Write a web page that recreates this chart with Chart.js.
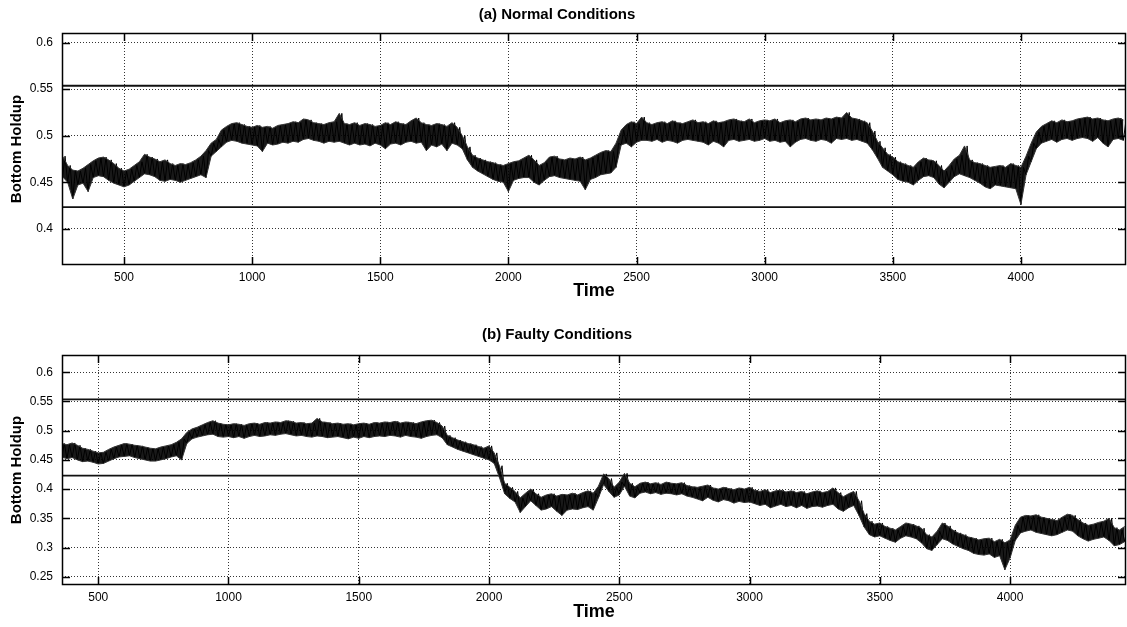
<!DOCTYPE html>
<html>
<head>
<meta charset="utf-8">
<script src="https://cdn.jsdelivr.net/npm/chart.js@4.4.1/dist/chart.umd.min.js"></script>
<style>
  html, body { margin: 0; padding: 0; background: #fff; }
  #wrap { position: relative; width: 1127px; height: 627px; background: #fff; }
  .panel { position: absolute; left: 0; width: 1127px; }
  #panelA { top: 0; height: 300px; }
  #panelB { top: 300px; height: 327px; }
</style>
</head>
<body>
<div id="wrap">
  <div class="panel" id="panelA"><canvas id="normalChart" width="1127" height="300"></canvas></div>
  <div class="panel" id="panelB"><canvas id="faultyChart" width="1127" height="327"></canvas></div>
</div>
<script>
// Sampling of the holdup band: one lower and one upper reading per step
const sampleStep = 20;
const normalStart = 260;
const faultyStart = 360;

// Normal operation, band lower / upper edge from t = 260 to 4400
const normalHigh = [
  .478,.468,.463,.462,.465,.469,.473,.476,.477,.474,
  .470,.465,.462,.464,.468,.472,.480,.477,.475,.472,
  .474,.470,.468,.470,.469,.471,.474,.478,.484,.492,
  .496,.506,.510,.513,.514,.512,.510,.509,.511,.509,
  .510,.508,.511,.512,.513,.515,.514,.518,.517,.514,
  .513,.512,.514,.515,.524,.513,.512,.514,.511,.513,
  .512,.510,.511,.514,.512,.515,.513,.512,.516,.519,
  .514,.512,.511,.513,.512,.510,.514,.509,.500,.488,
  .479,.476,.474,.472,.471,.469,.468,.470,.472,.473,
  .476,.479,.474,.468,.471,.477,.478,.475,.474,.476,
  .475,.477,.474,.476,.479,.482,.484,.483,.492,.506,
  .512,.515,.513,.520,.514,.512,.514,.515,.513,.516,
  .514,.513,.515,.517,.514,.515,.513,.516,.514,.515,
  .517,.518,.516,.515,.518,.514,.516,.517,.516,.518,
  .514,.516,.517,.515,.518,.519,.517,.518,.517,.519,
  .518,.520,.519,.525,.519,.518,.516,.514,.505,.494,
  .487,.480,.477,.472,.470,.468,.466,.472,.476,.474,
  .473,.468,.462,.468,.475,.479,.489,.474,.471,.470,
  .468,.466,.467,.468,.466,.470,.468,.466,.478,.492,
  .504,.510,.513,.516,.514,.517,.515,.516,.518,.519,
  .520,.518,.519,.517,.516,.518,.519,.517
];
const normalLow = [
  .456,.450,.432,.447,.449,.440,.455,.457,.456,.452,
  .449,.447,.445,.447,.451,.455,.459,.458,.456,.452,
  .451,.453,.452,.450,.452,.454,.456,.458,.455,.478,
  .483,.488,.493,.495,.494,.492,.491,.490,.489,.483,
  .492,.490,.491,.493,.492,.494,.493,.496,.497,.495,
  .494,.492,.494,.493,.494,.492,.490,.492,.490,.491,
  .489,.492,.490,.486,.491,.492,.490,.493,.494,.492,
  .493,.484,.490,.488,.491,.484,.492,.490,.486,.474,
  .466,.462,.459,.456,.453,.451,.450,.440,.452,.454,
  .455,.455,.450,.447,.452,.456,.457,.455,.454,.453,
  .452,.451,.442,.453,.455,.458,.459,.460,.466,.490,
  .492,.488,.493,.495,.495,.494,.496,.493,.495,.494,
  .492,.495,.496,.495,.494,.493,.490,.494,.492,.488,
  .495,.496,.494,.495,.496,.494,.495,.497,.494,.495,
  .493,.494,.488,.493,.496,.497,.495,.494,.496,.495,
  .492,.497,.496,.497,.495,.496,.494,.492,.485,.476,
  .466,.462,.458,.453,.451,.450,.447,.452,.456,.457,
  .455,.448,.444,.450,.456,.459,.457,.455,.452,.449,
  .445,.443,.447,.446,.445,.444,.443,.426,.458,.472,
  .486,.492,.494,.496,.493,.496,.497,.495,.497,.498,
  .497,.494,.498,.492,.488,.496,.497,.495
];

// Faulty operation, band lower / upper edge from t = 360 to 4440
const faultyHigh = [
  .478,.476,.479,.475,.470,.468,.465,.462,.463,.468,
  .472,.475,.478,.477,.475,.474,.472,.470,.469,.472,
  .474,.476,.480,.486,.497,.503,.506,.510,.514,.517,
  .513,.511,.510,.512,.511,.509,.512,.513,.511,.514,
  .513,.515,.514,.517,.516,.513,.514,.512,.513,.521,
  .515,.514,.512,.513,.511,.512,.510,.512,.513,.511,
  .514,.513,.515,.514,.516,.513,.515,.514,.512,.515,
  .517,.518,.514,.508,.492,.488,.484,.481,.478,.476,
  .473,.470,.474,.462,.440,.410,.403,.396,.385,.393,
  .400,.392,.386,.390,.392,.388,.391,.390,.393,.390,
  .394,.397,.393,.405,.426,.418,.403,.412,.427,.410,
  .404,.410,.412,.409,.411,.408,.412,.410,.409,.411,
  .406,.404,.403,.405,.407,.402,.400,.403,.401,.399,
  .402,.400,.403,.398,.396,.399,.394,.397,.398,.395,
  .397,.394,.396,.392,.395,.397,.394,.396,.402,.394,
  .387,.392,.396,.380,.358,.345,.340,.342,.336,.333,
  .330,.336,.342,.340,.337,.333,.322,.318,.328,.342,
  .337,.330,.325,.322,.318,.316,.313,.315,.316,.310,
  .314,.308,.313,.338,.352,.355,.354,.356,.352,.350,
  .348,.346,.352,.357,.355,.348,.342,.338,.340,.343,
  .345,.350,.334,.330,.336
];
const faultyLow = [
  .455,.452,.454,.450,.447,.448,.446,.443,.444,.448,
  .452,.455,.456,.457,.454,.452,.450,.448,.448,.450,
  .452,.455,.457,.450,.478,.486,.489,.491,.493,.494,
  .490,.489,.490,.488,.490,.487,.490,.492,.490,.491,
  .493,.492,.494,.495,.493,.491,.492,.490,.489,.491,
  .490,.488,.489,.490,.488,.486,.489,.487,.490,.488,
  .490,.491,.490,.492,.491,.489,.492,.490,.489,.487,
  .490,.492,.493,.488,.476,.472,.468,.465,.462,.459,
  .456,.453,.450,.444,.420,.392,.384,.378,.360,.370,
  .380,.372,.364,.366,.370,.362,.355,.364,.366,.365,
  .368,.370,.364,.385,.408,.396,.386,.390,.405,.388,
  .385,.393,.395,.392,.394,.391,.393,.392,.390,.392,
  .388,.386,.383,.380,.386,.381,.378,.382,.380,.376,
  .379,.377,.378,.375,.372,.374,.368,.371,.374,.370,
  .372,.368,.372,.367,.370,.371,.369,.372,.374,.366,
  .362,.368,.372,.355,.335,.322,.318,.320,.316,.312,
  .309,.316,.320,.318,.315,.308,.298,.295,.305,.315,
  .312,.306,.302,.298,.295,.290,.288,.287,.289,.283,
  .286,.262,.282,.312,.325,.328,.330,.326,.324,.322,
  .320,.322,.326,.330,.328,.320,.315,.311,.314,.316,
  .318,.312,.303,.305,.310
];

// Control limits shared by both panels
const upperLimit = 0.5537;
const lowerLimit = 0.4232;

// Axis extents and tick positions
const normalTimeRange = [258, 4410];
const faultyTimeRange = [361, 4445];
const normalHoldupRange = [0.361, 0.6104];
const faultyHoldupRange = [0.2358, 0.6296];
const timeTicks = [500, 1000, 1500, 2000, 2500, 3000, 3500, 4000];
const normalHoldupTicks = [0.4, 0.45, 0.5, 0.55, 0.6];
const faultyHoldupTicks = [0.25, 0.3, 0.35, 0.4, 0.45, 0.5, 0.55, 0.6];

const FONT = '"Liberation Sans", Arial, Helvetica, sans-serif';

function edgePoints(start, values) {
  return values.map((v, i) => ({ x: start + i * sampleStep, y: v }));
}

// Zig-zag between the lower and upper edge of each sample step
function zigzagPoints(start, low, high) {
  const pts = [];
  for (let i = 0; i < low.length; i++) {
    const t = start + i * sampleStep;
    pts.push({ x: t, y: low[i] });
    pts.push({ x: t + sampleStep / 2, y: high[i] });
  }
  return pts;
}

// Axes box with inward tick marks on all four sides
const axesFrame = {
  id: 'axesFrame',
  afterDatasetsDraw(chart) {
    const { ctx, chartArea: a, scales: { x, y } } = chart;
    const len = 8;
    ctx.save();
    ctx.setLineDash([]);
    ctx.strokeStyle = '#000';
    ctx.lineWidth = 1.5;
    ctx.beginPath();
    x.ticks.forEach(t => {
      const px = Math.round(x.getPixelForValue(t.value)) + 0.5;
      ctx.moveTo(px, a.bottom); ctx.lineTo(px, a.bottom - len);
      ctx.moveTo(px, a.top); ctx.lineTo(px, a.top + len);
    });
    y.ticks.forEach(t => {
      const py = Math.round(y.getPixelForValue(t.value)) + 0.5;
      ctx.moveTo(a.left, py); ctx.lineTo(a.left + len, py);
      ctx.moveTo(a.right, py); ctx.lineTo(a.right - len, py);
    });
    ctx.stroke();
    ctx.strokeRect(a.left + 0.5, a.top + 0.5, a.width - 1, a.height - 1);
    ctx.restore();
  }
};

// Panel heading drawn above the axes box
const panelHeading = {
  id: 'panelHeading',
  afterDraw(chart, args, opts) {
    const { ctx } = chart;
    ctx.save();
    ctx.fillStyle = '#000';
    ctx.font = 'bold 15px ' + FONT;
    ctx.textAlign = 'center';
    ctx.textBaseline = 'middle';
    ctx.fillText(opts.text, opts.x, opts.y);
    ctx.restore();
  }
};

function makeChart(canvasId, cfg) {
  const gridOpts = { color: '#000', lineWidth: 0.8, drawTicks: false };
  const borderOpts = { display: false, dash: [1, 2] };
  return new Chart(document.getElementById(canvasId), {
    type: 'line',
    data: {
      datasets: [
        {
          // lower edge of the noisy band
          data: edgePoints(cfg.start, cfg.low),
          borderColor: '#333',
          borderWidth: 1,
          pointRadius: 0,
          fill: false
        },
        {
          // upper edge, shaded down to the lower edge
          data: edgePoints(cfg.start, cfg.high),
          borderColor: '#333',
          borderWidth: 1,
          pointRadius: 0,
          fill: '-1',
          backgroundColor: 'rgba(0,0,0,0.9)'
        },
        {
          // sample-to-sample trace through both edges
          data: zigzagPoints(cfg.start, cfg.low, cfg.high),
          borderColor: '#000',
          borderWidth: 1,
          pointRadius: 0,
          fill: false
        },
        {
          data: [{ x: cfg.timeRange[0], y: upperLimit }, { x: cfg.timeRange[1], y: upperLimit }],
          borderColor: '#111',
          borderWidth: 1.8,
          pointRadius: 0,
          fill: false
        },
        {
          data: [{ x: cfg.timeRange[0], y: lowerLimit }, { x: cfg.timeRange[1], y: lowerLimit }],
          borderColor: '#111',
          borderWidth: 1.8,
          pointRadius: 0,
          fill: false
        }
      ]
    },
    options: {
      responsive: false,
      animation: false,
      events: [],
      parsing: false,
      normalized: true,
      layout: { padding: { top: cfg.padTop, right: 1, left: 0, bottom: 0 } },
      plugins: {
        legend: { display: false },
        tooltip: { enabled: false },
        title: { display: false },
        filler: { propagate: false },
        panelHeading: { text: cfg.title, x: 557, y: cfg.titleY }
      },
      scales: {
        x: {
          type: 'linear',
          min: cfg.timeRange[0],
          max: cfg.timeRange[1],
          afterBuildTicks: s => { s.ticks = timeTicks.map(v => ({ value: v })); },
          afterFit: s => { s.height = cfg.xAxisHeight; },
          ticks: {
            color: '#000', font: { family: FONT, size: 12 }, padding: 5,
            maxRotation: 0, autoSkip: false,
            callback: v => String(v)
          },
          grid: gridOpts,
          border: borderOpts,
          title: {
            display: true, text: 'Time', color: '#000',
            font: { family: FONT, size: 18, weight: 'bold', lineHeight: 1 },
            padding: { top: 0, bottom: cfg.timeTitlePad }
          }
        },
        y: {
          type: 'linear',
          min: cfg.holdupRange[0],
          max: cfg.holdupRange[1],
          afterBuildTicks: s => { s.ticks = cfg.holdupTicks.map(v => ({ value: v })); },
          afterFit: s => { s.width = 62; },
          ticks: {
            color: '#000', font: { family: FONT, size: 12 }, padding: 9,
            autoSkip: false,
            callback: v => String(+v.toFixed(2))
          },
          grid: gridOpts,
          border: borderOpts,
          title: {
            display: true, text: 'Bottom Holdup', color: '#000',
            font: { family: FONT, size: 15, weight: 'bold', lineHeight: 1.2 },
            padding: { top: 8, bottom: 0 }
          }
        }
      }
    },
    plugins: [axesFrame, panelHeading]
  });
}

makeChart('normalChart', {
  title: '(a) Normal Conditions', titleY: 15,
  start: normalStart, low: normalLow, high: normalHigh,
  timeRange: normalTimeRange, holdupRange: normalHoldupRange, holdupTicks: normalHoldupTicks,
  padTop: 33, xAxisHeight: 35, timeTitlePad: 0
});

makeChart('faultyChart', {
  title: '(b) Faulty Conditions', titleY: 35,
  start: faultyStart, low: faultyLow, high: faultyHigh,
  timeRange: faultyTimeRange, holdupRange: faultyHoldupRange, holdupTicks: faultyHoldupTicks,
  padTop: 55, xAxisHeight: 42, timeTitlePad: 6
});
</script>
</body>
</html>
